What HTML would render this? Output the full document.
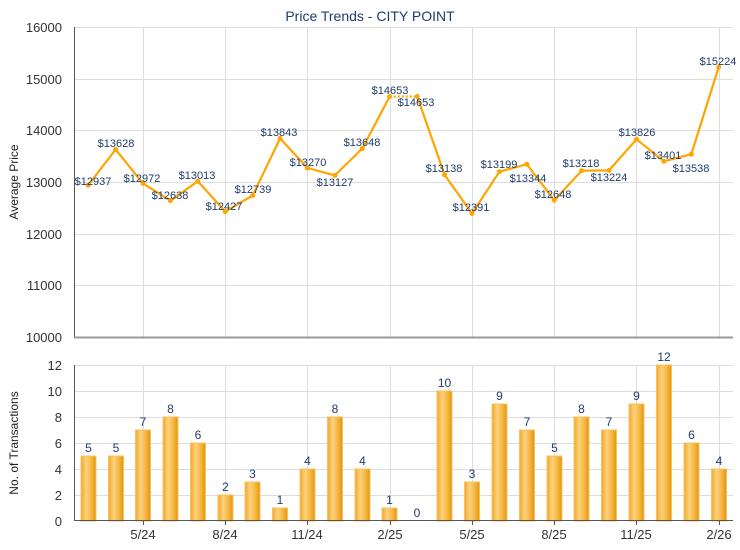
<!DOCTYPE html>
<html><head><meta charset="utf-8"><style>
html,body{margin:0;padding:0;background:#fff;}
svg{display:block;font-family:"Liberation Sans",Arial,sans-serif;}
</style></head><body>
<svg width="740" height="550" viewBox="0 0 740 550" xmlns="http://www.w3.org/2000/svg">
<defs>
<linearGradient id="bg" x1="0" x2="1" y1="0" y2="0">
<stop offset="0" stop-color="#f0a82a"/>
<stop offset="0.35" stop-color="#fdd27c"/>
<stop offset="0.75" stop-color="#f3b13a"/>
<stop offset="1" stop-color="#e29500"/>
</linearGradient>
</defs>
<text x="370" y="21" text-anchor="middle" font-size="14" fill="#1f3d6b">Price Trends - CITY POINT</text>
<g id="top">
<g stroke="#dddddd" stroke-width="1">
<line x1="74.5" x2="733" y1="27.5" y2="27.5"/>
<line x1="74.5" x2="733" y1="79.5" y2="79.5"/>
<line x1="74.5" x2="733" y1="130.5" y2="130.5"/>
<line x1="74.5" x2="733" y1="182.5" y2="182.5"/>
<line x1="74.5" x2="733" y1="234.5" y2="234.5"/>
<line x1="74.5" x2="733" y1="285.5" y2="285.5"/>
<line x1="143.5" x2="143.5" y1="27" y2="337"/>
<line x1="225.5" x2="225.5" y1="27" y2="337"/>
<line x1="307.5" x2="307.5" y1="27" y2="337"/>
<line x1="390.5" x2="390.5" y1="27" y2="337"/>
<line x1="472.5" x2="472.5" y1="27" y2="337"/>
<line x1="554.5" x2="554.5" y1="27" y2="337"/>
<line x1="636.5" x2="636.5" y1="27" y2="337"/>
<line x1="719.5" x2="719.5" y1="27" y2="337"/>
</g>
<line x1="74.5" x2="74.5" y1="27" y2="337" stroke="#555" stroke-width="1"/>
<line x1="74" x2="733" y1="337.5" y2="337.5" stroke="#999" stroke-width="2"/>
<g font-size="13" fill="#333" text-anchor="end">
<text x="62" y="32">16000</text>
<text x="62" y="84">15000</text>
<text x="62" y="135">14000</text>
<text x="62" y="187">13000</text>
<text x="62" y="239">12000</text>
<text x="62" y="290">11000</text>
<text x="62" y="342">10000</text>
</g>
<text transform="translate(18,182) rotate(-90)" text-anchor="middle" font-size="12" fill="#222">Average Price</text>
<polyline fill="none" stroke="#ffa500" stroke-width="2.2" stroke-linejoin="round" points="88.2,185.2 115.6,149.5 143,183.4 170.4,200.7 197.8,181.3 225.3,211.6 252.7,195.5 280.1,138.4 307.5,168 334.9,175.4 362.3,148.5 389.7,96.5"/>
<line x1="389.7" y1="96.5" x2="417.2" y2="96.5" stroke="#ffa500" stroke-width="2.2" stroke-dasharray="2,2"/>
<polyline fill="none" stroke="#ffa500" stroke-width="2.2" stroke-linejoin="round" points="417.2,96.5 444.6,174.9 472,213.5 499.4,171.7 526.8,164.2 554.2,200.2 581.6,170.7 609,170.4 636.5,139.3 663.9,161.3 691.3,154.2 718.7,67"/>
<g fill="#ffa500">
<circle cx="88.2" cy="185.2" r="2.5"/><circle cx="115.6" cy="149.5" r="2.5"/><circle cx="143" cy="183.4" r="2.5"/><circle cx="170.4" cy="200.7" r="2.5"/><circle cx="197.8" cy="181.3" r="2.5"/><circle cx="225.3" cy="211.6" r="2.5"/><circle cx="252.7" cy="195.5" r="2.5"/><circle cx="280.1" cy="138.4" r="2.5"/><circle cx="307.5" cy="168" r="2.5"/><circle cx="334.9" cy="175.4" r="2.5"/><circle cx="362.3" cy="148.5" r="2.5"/><circle cx="389.7" cy="96.5" r="2.5"/><circle cx="417.2" cy="96.5" r="2.5"/><circle cx="444.6" cy="174.9" r="2.5"/><circle cx="472" cy="213.5" r="2.5"/><circle cx="499.4" cy="171.7" r="2.5"/><circle cx="526.8" cy="164.2" r="2.5"/><circle cx="554.2" cy="200.2" r="2.5"/><circle cx="581.6" cy="170.7" r="2.5"/><circle cx="609" cy="170.4" r="2.5"/><circle cx="636.5" cy="139.3" r="2.5"/><circle cx="663.9" cy="161.3" r="2.5"/><circle cx="691.3" cy="154.2" r="2.5"/><circle cx="718.7" cy="67" r="2.5"/>
</g>
<g font-size="11" fill="#1f3d6b" text-anchor="middle">
<text x="93" y="185">$12937</text>
<text x="116" y="147">$13628</text>
<text x="142" y="182">$12972</text>
<text x="170" y="199">$12638</text>
<text x="197" y="179">$13013</text>
<text x="224" y="210">$12427</text>
<text x="253" y="193">$12739</text>
<text x="279" y="136">$13843</text>
<text x="308" y="166">$13270</text>
<text x="335" y="186">$13127</text>
<text x="362" y="146">$13648</text>
<text x="390" y="94">$14653</text>
<text x="416" y="106">$14653</text>
<text x="444" y="172">$13138</text>
<text x="471" y="211">$12391</text>
<text x="499" y="168">$13199</text>
<text x="528" y="182">$13344</text>
<text x="553" y="198">$12648</text>
<text x="581" y="167">$13218</text>
<text x="609" y="181">$13224</text>
<text x="637" y="136">$13826</text>
<text x="663" y="159">$13401</text>
<text x="691" y="172">$13538</text>
<text x="718" y="65">$15224</text>
</g>
</g>
<g id="bottom">
<g stroke="#dddddd" stroke-width="1">
<line x1="74.5" x2="733" y1="365.5" y2="365.5"/>
<line x1="74.5" x2="733" y1="391.5" y2="391.5"/>
<line x1="74.5" x2="733" y1="417.5" y2="417.5"/>
<line x1="74.5" x2="733" y1="443.5" y2="443.5"/>
<line x1="74.5" x2="733" y1="469.5" y2="469.5"/>
<line x1="74.5" x2="733" y1="495.5" y2="495.5"/>
<line x1="143.5" x2="143.5" y1="365" y2="521"/>
<line x1="225.5" x2="225.5" y1="365" y2="521"/>
<line x1="307.5" x2="307.5" y1="365" y2="521"/>
<line x1="390.5" x2="390.5" y1="365" y2="521"/>
<line x1="472.5" x2="472.5" y1="365" y2="521"/>
<line x1="554.5" x2="554.5" y1="365" y2="521"/>
<line x1="636.5" x2="636.5" y1="365" y2="521"/>
<line x1="719.5" x2="719.5" y1="365" y2="521"/>
</g>
<g fill="url(#bg)" stroke="#f7c060" stroke-width="1">
<rect x="81" y="456" width="15" height="65"/>
<rect x="108.5" y="456" width="15" height="65"/>
<rect x="135.5" y="430" width="15" height="91"/>
<rect x="163" y="417" width="15" height="104"/>
<rect x="190.5" y="443" width="15" height="78"/>
<rect x="218" y="495" width="15" height="26"/>
<rect x="245" y="482" width="15" height="39"/>
<rect x="272.5" y="508" width="15" height="13"/>
<rect x="300" y="469" width="15" height="52"/>
<rect x="327.5" y="417" width="15" height="104"/>
<rect x="355" y="469" width="15" height="52"/>
<rect x="382" y="508" width="15" height="13"/>
<rect x="437" y="391" width="15" height="130"/>
<rect x="464.5" y="482" width="15" height="39"/>
<rect x="492" y="404" width="15" height="117"/>
<rect x="519.5" y="430" width="15" height="91"/>
<rect x="547" y="456" width="15" height="65"/>
<rect x="574" y="417" width="15" height="104"/>
<rect x="601.5" y="430" width="15" height="91"/>
<rect x="629" y="404" width="15" height="117"/>
<rect x="656.5" y="365" width="15" height="156"/>
<rect x="684" y="443" width="15" height="78"/>
<rect x="711.5" y="469" width="15" height="52"/>
</g>
<line x1="74.5" x2="74.5" y1="365" y2="521" stroke="#555"/>
<line x1="74" x2="733" y1="520.5" y2="520.5" stroke="#555"/>
<g stroke="#555"><line x1="143.5" x2="143.5" y1="521" y2="525"/><line x1="225.5" x2="225.5" y1="521" y2="525"/><line x1="307.5" x2="307.5" y1="521" y2="525"/><line x1="390.5" x2="390.5" y1="521" y2="525"/><line x1="472.5" x2="472.5" y1="521" y2="525"/><line x1="554.5" x2="554.5" y1="521" y2="525"/><line x1="636.5" x2="636.5" y1="521" y2="525"/><line x1="719.5" x2="719.5" y1="521" y2="525"/></g>
<g font-size="13" fill="#333" text-anchor="end">
<text x="62" y="370">12</text><text x="62" y="396">10</text><text x="62" y="422">8</text><text x="62" y="448">6</text><text x="62" y="474">4</text><text x="62" y="500">2</text><text x="62" y="526">0</text>
</g>
<text transform="translate(18,443) rotate(-90)" text-anchor="middle" font-size="12" fill="#222">No. of Transactions</text>
<g font-size="12" fill="#1f3d6b" text-anchor="middle">
<text x="88.5" y="452">5</text><text x="116" y="452">5</text><text x="143" y="426">7</text><text x="170.5" y="413">8</text><text x="198" y="439">6</text><text x="225.5" y="491">2</text><text x="252.5" y="478">3</text><text x="280" y="504">1</text><text x="307.5" y="465">4</text><text x="335" y="413">8</text><text x="362.5" y="465">4</text><text x="389.5" y="504">1</text><text x="417" y="517">0</text><text x="444.5" y="387">10</text><text x="472" y="478">3</text><text x="499.5" y="400">9</text><text x="527" y="426">7</text><text x="554.5" y="452">5</text><text x="581.5" y="413">8</text><text x="609" y="426">7</text><text x="636.5" y="400">9</text><text x="664" y="361">12</text><text x="691.5" y="439">6</text><text x="719" y="465">4</text>
</g>
<g font-size="13" fill="#333" text-anchor="middle">
<text x="143" y="539">5/24</text><text x="225" y="539">8/24</text><text x="307" y="539">11/24</text><text x="390" y="539">2/25</text><text x="472" y="539">5/25</text><text x="554" y="539">8/25</text><text x="636" y="539">11/25</text><text x="719" y="539">2/26</text>
</g>
</g>
</svg>
</body></html>
